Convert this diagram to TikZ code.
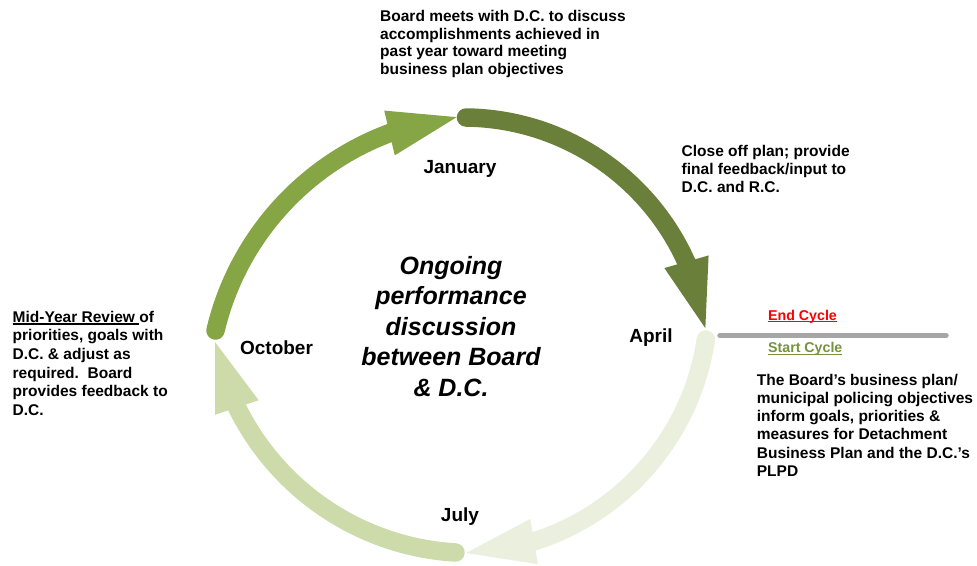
\documentclass[tikz,border=0pt]{standalone}
\usepackage{fontspec}
\setmainfont{Liberation Sans}
\usetikzlibrary{arrows.meta,bending}

\definecolor{octArc}{HTML}{86A544}
\definecolor{janArc}{HTML}{6A7F3A}
\definecolor{aprArc}{HTML}{EBF0DE}
\definecolor{julArc}{HTML}{CCDBA9}
\definecolor{cycleGray}{HTML}{A6A6A6}
\definecolor{startGreen}{HTML}{76923C}

% underline drawn as a rule under the boxed text (keeps the colour in force)
\newsavebox\ulbox
\newcommand\ulined[1]{\sbox\ulbox{#1}\rlap{\rule[-2.3pt]{\wd\ulbox}{1.3pt}}\usebox\ulbox}

\begin{document}
\begin{tikzpicture}[x=1pt,y=-1pt,
  % multi-line nodes: the base anchor sits on the last line
  body/.style={anchor=base west, align=left, inner sep=0pt,
               font=\fontsize{15.5}{18.3}\selectfont\bfseries},
  month/.style={anchor=base, inner sep=0pt,
               font=\fontsize{19}{22}\selectfont\bfseries},
  cyclearc/.style={line width=18.5pt, line cap=round,
               -{Triangle[length=69pt,width=46pt,flex,line width=0pt]}},
]
\useasboundingbox (0,0) rectangle (977,565);

% start points of the four quarter arrows
\coordinate (octS) at (215.5,330.5);
\coordinate (janS) at (466,117.5);
\coordinate (aprS) at (705.8,339.5);
\coordinate (julS) at (455.5,552.5);

% the yearly cycle
\draw[cyclearc, color=aprArc] (aprS) arc[start angle=8.43, end angle=88.2, radius=250.3] coordinate (julT);
\draw[cyclearc, color=julArc] (julS) arc[start angle=93.4, end angle=169.0, radius=260.7] coordinate (octT);
\draw[cyclearc, color=octArc] (octS) arc[start angle=193.3, end angle=263.7, radius=279.3] coordinate (janT);
\draw[cyclearc, color=janArc] (janS) arc[start angle=270.7, end angle=352.0, radius=244.7] coordinate (aprT);

% end / start of cycle marker
\coordinate (barL) at (720,335.5);
\coordinate (barR) at (946,335.5);
\draw[cycleGray, line width=5.5pt, line cap=round] (barL) -- (barR);
\node[anchor=base west, inner sep=0pt, text=red, font=\fontsize{14.2}{17}\selectfont\bfseries]
  (endcyc) at (768,320) {\ulined{End Cycle}};
\node[anchor=base west, inner sep=0pt, text=startGreen, font=\fontsize{14.2}{17}\selectfont\bfseries]
  (startcyc) at (768,352.7) {\ulined{Start Cycle}};

% months
\node[month] (jan) at (460,173.3) {January};
\node[month] (apr) at (651,342.3) {April};
\node[month] (jul) at (460,521) {July};
\node[month] (oct) at (276.5,354) {October};

% centre
\node[anchor=base, align=center, inner sep=0pt,
      font=\fontsize{25}{30.5}\selectfont\bfseries\itshape] (centre) at (451,396)
  {Ongoing\\performance\\discussion\\between Board\\\& D.C.};

% descriptions
\node[body, font=\fontsize{15.5}{17.6}\selectfont\bfseries] (janText) at (380,74.5)
  {Board meets with D.C. to discuss\\accomplishments achieved in\\past year toward meeting\\business plan objectives};
\node[body, font=\fontsize{15.5}{18}\selectfont\bfseries] (aprText) at (681.5,192.7)
  {Close off plan; provide\\final feedback/input to\\D.C. and R.C.};
\node[body] (startText) at (756.7,476.5)
  {The Board’s business plan/\\municipal policing objectives\\inform goals, priorities \&\\measures for Detachment\\Business Plan and the D.C.’s\\PLPD};
\node[body, font=\fontsize{15.5}{18.6}\selectfont\bfseries] (octText) at (12.5,415.3)
  {\ulined{Mid-Year Review }of\\priorities, goals with\\D.C. \& adjust as\\required.\ \ Board\\provides feedback to\\D.C.};
\end{tikzpicture}
\end{document}
